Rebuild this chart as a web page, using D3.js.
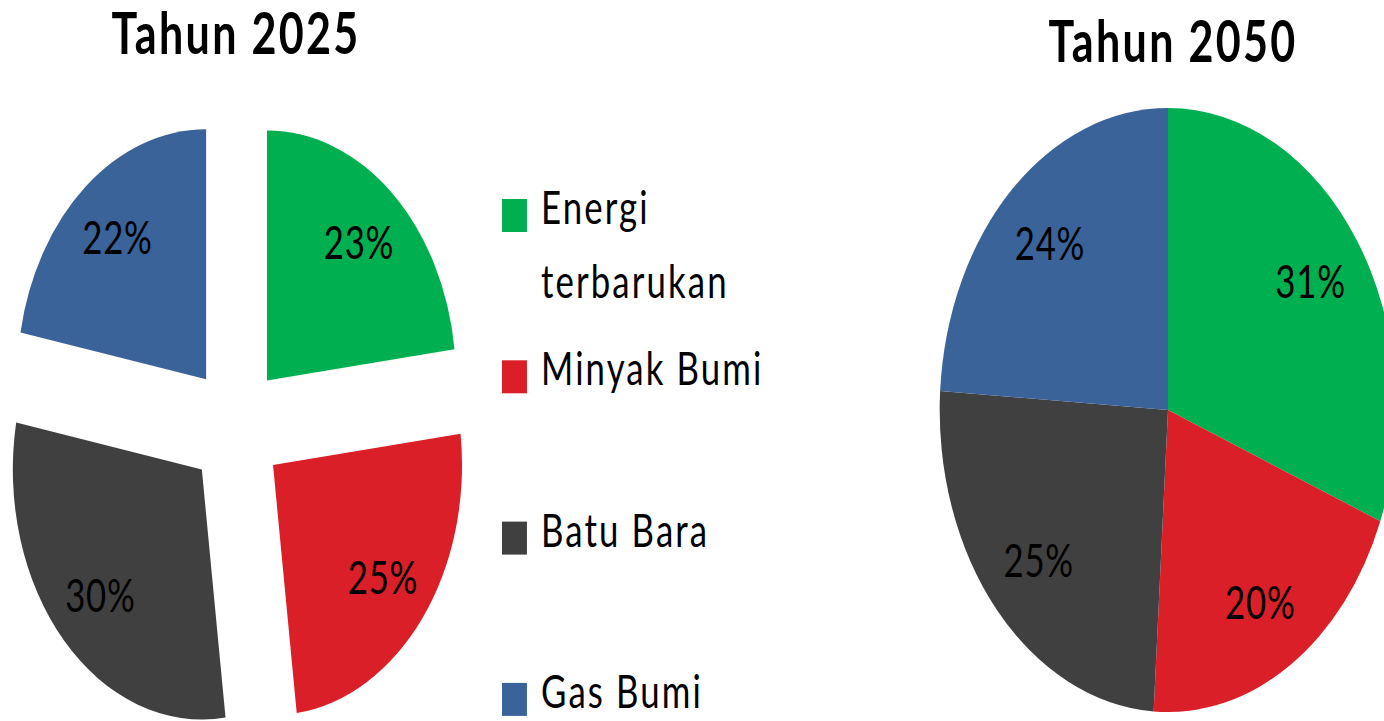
<!DOCTYPE html>
<html lang="id">
<head>
<meta charset="utf-8">
<script src="https://d3js.org/d3.v7.min.js"></script>
<style>
  body { margin: 0; background: #fff; }
  text { font-family: Lato, "Open Sans", sans-serif; fill: #000; }
</style>
</head>
<body>
<script>
// data
const categories = ["Energi terbarukan", "Minyak Bumi", "Batu Bara", "Gas Bumi"];
const colors = ["#00AF50", "#DA1F28", "#404040", "#3A6399"];
const values2025 = [23, 25, 30, 22];
const values2050 = [31, 20, 25, 24];
const titles = ["Tahun 2025", "Tahun 2050"];

const width = 1384, height = 721;
const sx = 0.756; // the whole picture is squeezed horizontally

const svg = d3.select("body").append("svg")
    .attr("width", width)
    .attr("height", height);

// everything goes in a squeezed group, so x values are divided by sx
const root = svg.append("g").attr("transform", "scale(" + sx + ",1)");

function drawPie(values, cx, cy, R, explode, labelR, title, titleX, titleY) {
    const g = root.append("g")
        .attr("transform", "translate(" + (cx / sx) + "," + cy + ")");

    const arcs = d3.pie().sort(null).value(d => d)(values);
    const arc = d3.arc().innerRadius(0).outerRadius(R);
    const labelArc = d3.arc().innerRadius(labelR).outerRadius(labelR);

    const slices = g.selectAll("g.slice")
        .data(arcs)
        .join("g")
        .attr("class", "slice")
        .attr("transform", function (d) {
            const m = (d.startAngle + d.endAngle) / 2;
            return "translate(" + (explode * Math.sin(m)) + "," + (-explode * Math.cos(m)) + ")";
        });

    slices.append("path")
        .attr("d", arc)
        .attr("fill", (d, i) => colors[i]);

    slices.append("text")
        .attr("x", d => labelArc.centroid(d)[0])
        .attr("y", d => labelArc.centroid(d)[1] + 16.5)
        .attr("text-anchor", "middle")
        .style("font-size", "46px")
        .style("letter-spacing", "1px")
        .text(d => d.data + "%");

    root.append("text")
        .attr("x", titleX / sx)
        .attr("y", titleY)
        .attr("text-anchor", "middle")
        .style("font-size", "57px")
        .style("font-weight", "bold")
        .style("letter-spacing", "3px")
        .text(title);
}

drawPie(values2025, 236, 427, 250, 62, 184, titles[0], 236, 54);
drawPie(values2050, 1168, 410, 302, 0, 228, titles[1], 1173, 62);

// legend
const legX = 502, legTop = 224, legStep = 161.3, lineH = 74, maxW = 240;
const textX = (541 - legX) / sx;
const leg = root.selectAll("g.legend")
    .data(categories)
    .join("g")
    .attr("class", "legend")
    .attr("transform", (d, i) => "translate(" + (legX / sx) + "," + (legTop + i * legStep) + ")");

leg.append("rect")
    .attr("x", 0)
    .attr("y", -25)
    .attr("width", 33)
    .attr("height", 33)
    .attr("fill", (d, i) => colors[i]);

leg.append("text")
    .attr("x", textX)
    .attr("y", 0)
    .style("font-size", "46px")
    .style("letter-spacing", "2.8px")
    .each(function (d) {
        // simple word wrap
        const t = d3.select(this);
        const words = d.split(" ");
        let line = [];
        let ts = t.append("tspan").attr("x", textX).attr("dy", 0);
        words.forEach(function (w) {
            line.push(w);
            ts.text(line.join(" "));
            if (ts.node().getComputedTextLength() * sx > maxW && line.length > 1) {
                line.pop();
                ts.text(line.join(" "));
                line = [w];
                ts = t.append("tspan").attr("x", textX).attr("dy", lineH).text(w);
            }
        });
    });
</script>
</body>
</html>
